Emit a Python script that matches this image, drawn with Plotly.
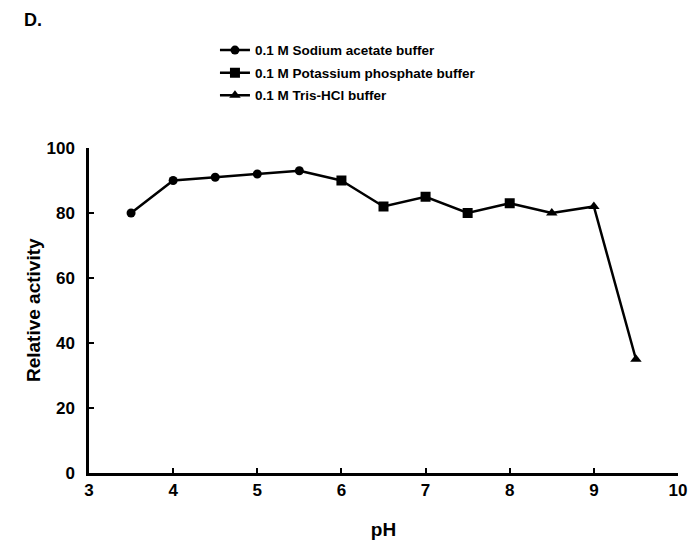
import plotly.graph_objects as go

# Data
acetate_ph = [3.5, 4.0, 4.5, 5.0, 5.5]
acetate_act = [80, 90, 91, 92, 93]
phosphate_ph = [6.0, 6.5, 7.0, 7.5, 8.0]
phosphate_act = [90, 82, 85, 80, 83]
tris_ph = [8.5, 9.0, 9.5]
tris_act = [80, 82, 35]

series_names = ["0.1 M Sodium acetate buffer",
                "0.1 M Potassium phosphate buffer",
                "0.1 M Tris-HCl buffer"]

FONT = "Liberation Sans, Arial, sans-serif"
line_style = dict(color="black", width=2.5)

fig = go.Figure()

# connecting segments between buffer series
fig.add_trace(go.Scatter(x=[acetate_ph[-1], phosphate_ph[0]], y=[acetate_act[-1], phosphate_act[0]],
                         mode="lines", line=line_style, showlegend=False, hoverinfo="skip"))
fig.add_trace(go.Scatter(x=[phosphate_ph[-1], tris_ph[0]], y=[phosphate_act[-1], tris_act[0]],
                         mode="lines", line=line_style, showlegend=False, hoverinfo="skip"))

fig.add_trace(go.Scatter(x=acetate_ph, y=acetate_act, mode="lines+markers", name=series_names[0],
                         legendgroup="a",
                         line=line_style, marker=dict(symbol="circle", size=9, color="black")))
fig.add_trace(go.Scatter(x=phosphate_ph, y=phosphate_act, mode="lines+markers", name=series_names[1],
                         legendgroup="b",
                         line=line_style, marker=dict(symbol="square", size=10, color="black")))
fig.add_trace(go.Scatter(x=tris_ph, y=tris_act, mode="lines+markers", name=series_names[2],
                         legendgroup="c",
                         line=line_style, marker=dict(symbol="triangle-up", size=10, color="black")))

axis_common = dict(showline=True, linecolor="black", linewidth=2.5, ticks="inside", ticklen=5,
                   tickwidth=2, tickcolor="black", showgrid=False, zeroline=False,
                   tickfont=dict(family=FONT, size=17, color="black", weight="bold"))

fig.update_layout(
    width=689, height=544,
    margin=dict(l=89, r=11, t=148, b=71, autoexpand=False),
    paper_bgcolor="white", plot_bgcolor="white",
    font=dict(family=FONT, color="black"),
    xaxis=dict(range=[3, 10], dtick=1, tick0=3,
               title=dict(text="pH", font=dict(family=FONT, size=19, weight="bold"), standoff=24),
               **axis_common),
    yaxis=dict(range=[0, 100], dtick=20, ticklabelstandoff=8,
               **axis_common),
    legend=dict(x=0.312, y=0.936, xref="container", yref="container", xanchor="left", yanchor="top",
                font=dict(family=FONT, size=13.5, weight="bold", color="black"),
                tracegroupgap=2,
                bgcolor="rgba(0,0,0,0)"),
    annotations=[
        dict(text="D.", x=-0.114, y=1.394, xref="paper", yref="paper", xanchor="left",
             yanchor="middle", showarrow=False,
             font=dict(family=FONT, size=18, weight="bold", color="black")),
        dict(text="Relative activity", x=-0.095, y=0.5015, xref="paper", yref="paper",
             xanchor="center", yanchor="middle", textangle=-90, showarrow=False,
             font=dict(family=FONT, size=19, weight="bold", color="black")),
    ],
)

fig.write_html("out.html")
